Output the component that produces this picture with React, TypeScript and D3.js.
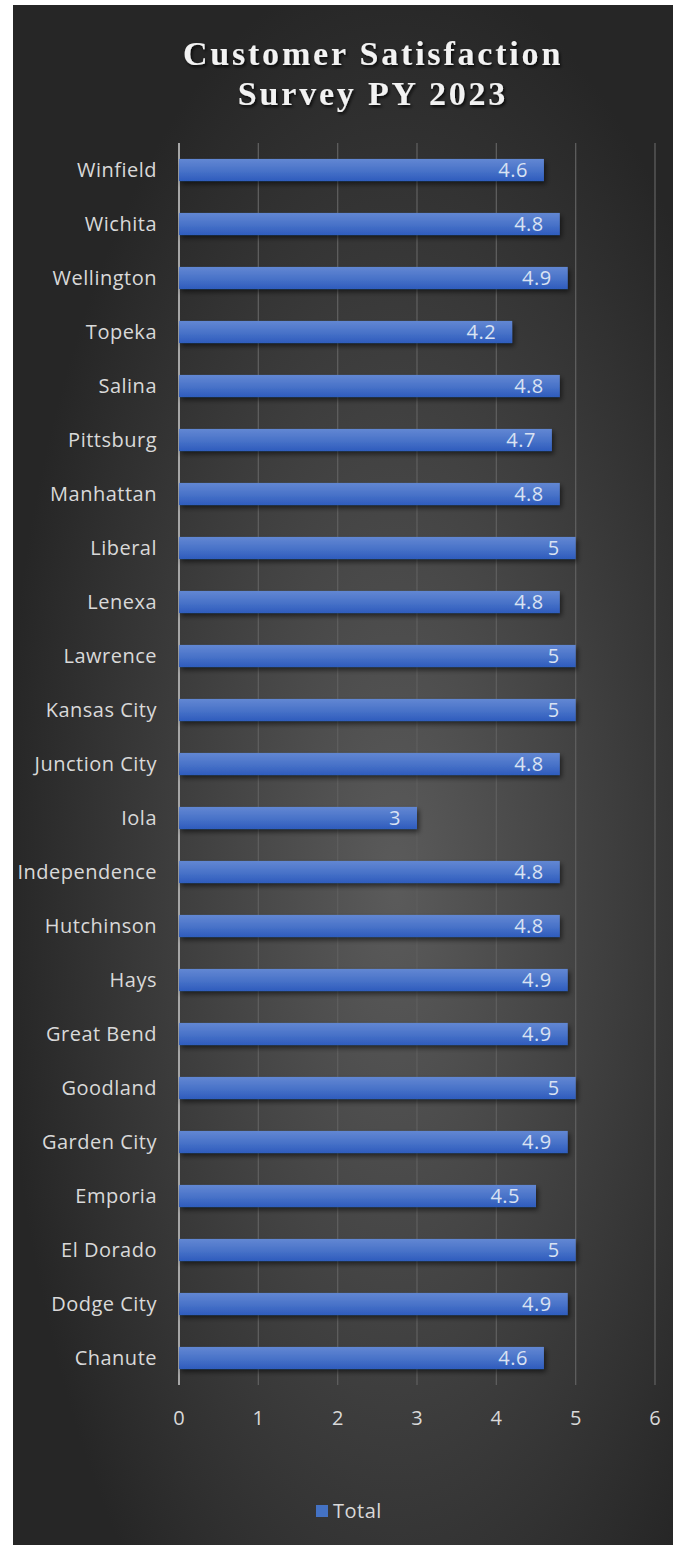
import React from "react";
import * as d3 from "d3";

const categories = [
  "Winfield", "Wichita", "Wellington", "Topeka", "Salina", "Pittsburg", "Manhattan",
  "Liberal", "Lenexa", "Lawrence", "Kansas City", "Junction City", "Iola", "Independence",
  "Hutchinson", "Hays", "Great Bend", "Goodland", "Garden City", "Emporia", "El Dorado",
  "Dodge City", "Chanute",
];
const totals = [
  4.6, 4.8, 4.9, 4.2, 4.8, 4.7, 4.8, 5, 4.8, 5, 5, 4.8, 3, 4.8, 4.8, 4.9, 4.9, 5, 4.9,
  4.5, 5, 4.9, 4.6,
];
const xTicks = [0, 1, 2, 3, 4, 5, 6];
const titleLines = ["Customer Satisfaction", "Survey PY 2023"];
const seriesName = "Total";

const W = 678;
const H = 1547;
const panel = { x: 13, y: 5, w: 660, h: 1540 };
const plot = { left: 179, right: 655, top: 143, bottom: 1385 };

export default function App() {
  const x = d3.scaleLinear().domain([0, 6]).range([plot.left, plot.right]);
  const y = d3
    .scaleBand<string>()
    .domain(categories)
    .range([plot.top, plot.bottom])
    .paddingInner(0.59)
    .paddingOuter(0.295);
  const font = "'Open Sans', 'Noto Sans', sans-serif";
  const textCol = "#d9d9d9";
  const fs = 20;
  const ls = 0.5;
  return (
    <div style={{ position: "absolute", left: 0, top: 0 }}>
      <svg width={W} height={H} style={{ display: "block" }}>
        <defs>
          <radialGradient id="bg" cx="0.58" cy="0.57" r="0.6" gradientUnits="objectBoundingBox">
            <stop offset="0" stopColor="#5b5b5b" />
            <stop offset="0.55" stopColor="#3e3e3e" />
            <stop offset="1" stopColor="#262626" />
          </radialGradient>
          <linearGradient id="bar" x1="0" y1="0" x2="0" y2="1">
            <stop offset="0" stopColor="#6287d3" />
            <stop offset="0.5" stopColor="#4a74c9" />
            <stop offset="1" stopColor="#2e5cbd" />
          </linearGradient>
          <filter id="shadow" x="-5%" y="-30%" width="110%" height="180%">
            <feDropShadow dx="2" dy="3" stdDeviation="2.5" floodColor="#000" floodOpacity="0.55" />
          </filter>
          <filter id="tshadow" x="-10%" y="-30%" width="120%" height="180%">
            <feDropShadow dx="1.5" dy="2" stdDeviation="1.5" floodColor="#000" floodOpacity="0.8" />
          </filter>
        </defs>
        <rect width={W} height={H} fill="#fff" />
        <rect x={panel.x} y={panel.y} width={panel.w} height={panel.h} fill="url(#bg)" />
        <g filter="url(#tshadow)">
          {titleLines.map((t, i) => (
            <text
              key={t}
              x={373}
              y={65 + i * 40}
              textAnchor="middle"
              fill="#f2f2f2"
              fontFamily="'Liberation Serif', 'Times New Roman', serif"
              fontWeight="bold"
              fontSize={34}
              letterSpacing={2.8}
            >
              {t}
            </text>
          ))}
        </g>
        {xTicks.map((t) => (
          <line
            key={"g" + t}
            x1={x(t)}
            x2={x(t)}
            y1={plot.top}
            y2={plot.bottom}
            stroke={t === 0 ? "#a6a6a6" : "#5e5e5e"}
            strokeWidth={t === 0 ? 2 : 1.3}
          />
        ))}
        {categories.map((c, i) => {
          const y0 = y(c)!;
          const bw = y.bandwidth();
          return (
            <g key={c}>
              <rect
                x={x(0)}
                y={y0}
                width={x(totals[i]) - x(0)}
                height={bw}
                fill="url(#bar)"
                filter="url(#shadow)"
              />
              <text
                x={x(totals[i]) - 16}
                y={y0 + bw / 2}
                dy="0.35em"
                textAnchor="end"
                fill="#d9e2f3"
                fontFamily={font}
                fontSize={fs}
                letterSpacing={ls}
              >
                {totals[i]}
              </text>
              <text
                x={157}
                y={y0 + bw / 2}
                dy="0.35em"
                textAnchor="end"
                fill={textCol}
                fontFamily={font}
                fontSize={fs}
                letterSpacing={ls}
              >
                {c}
              </text>
            </g>
          );
        })}
        {xTicks.map((t) => (
          <text
            key={"t" + t}
            x={x(t)}
            y={1418}
            dy="0.35em"
            textAnchor="middle"
            fill={textCol}
            fontFamily={font}
            fontSize={fs}
          >
            {t}
          </text>
        ))}
        <rect x={316} y={1505} width={12} height={12} fill="#4472c4" />
        <text x={333} y={1511} dy="0.35em" fill={textCol} fontFamily={font} fontSize={fs} letterSpacing={ls}>
          {seriesName}
        </text>
      </svg>
    </div>
  );
}
